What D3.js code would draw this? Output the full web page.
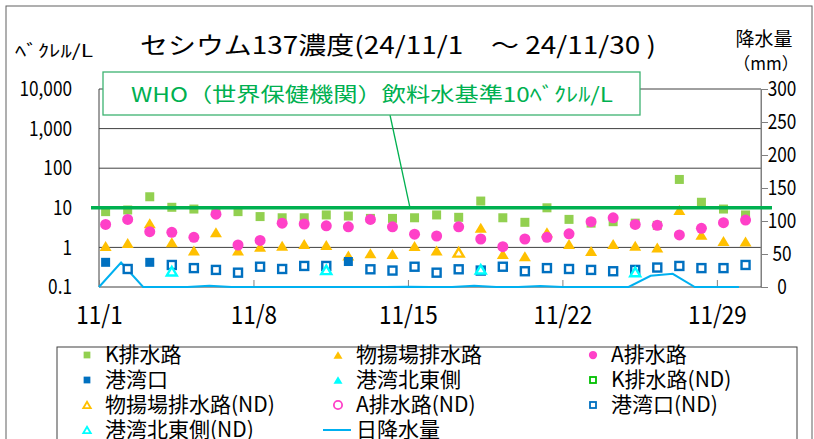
<!DOCTYPE html>
<html>
<head>
<meta charset="utf-8">
<script src="https://cdn.jsdelivr.net/npm/d3@7"></script>
<style>
  body { margin: 0; background: #fff; }
  text { font-family: "Noto Sans CJK JP", sans-serif; }
</style>
</head>
<body>
<div id="vis"></div>
<script>
// days of November 2024
const days = d3.range(1, 31)

// Cs-137 concentration (Bq/L), null = no value that day
const kDrain = [8.0, 8.8, 19, 10.3, 9.3, 7.7, 8.0, 6.0, 5.6, 5.6, 6.6, 6.2, 5.4, 5.4, 5.6,
  6.6, 5.75, 14.8, 5.6, 4.3, 10.0, 5.1, 4.1, 4.46, 4.1, 3.6, 52, 13.8, 9.3, 6.6]
const wharfDrain = [1.08, 1.3, 4.1, 1.35, 0.83, 2.4, 0.83, 1.04, 1.1, 1.22, 1.15, 0.62, 0.71, 0.68, 1.08,
  0.83, null, 3.15, 0.68, 0.6, 2.4, 1.22, 0.81, 1.22, 1.1, 1.0, 8.8, 2.1, 1.45, 1.4]
const aDrain = [3.8, 5.1, 2.5, 2.4, 1.8, 6.9, 1.15, 1.5, 4.1, 3.9, 3.5, 3.3, 5.1, 3.3, 2.15,
  1.94, 3.3, 1.63, 1.04, 1.63, 1.8, 2.2, 4.46, 5.6, 3.8, 3.6, 2.06, 3.03, 4.2, 4.9]
const harbor = [0.42, null, 0.42, null, null, null, null, null, null, null, null, 0.44, null, null, null,
  null, null, null, null, null, null, null, null, null, null, null, null, null, null, null]
const harborNE = new Array(30).fill(null)
const kDrainND = new Array(30).fill(null)
const wharfDrainND = [null, null, null, null, null, null, null, null, null, null, null, null, null, null, null,
  null, 0.75, null, null, null, null, null, null, null, null, null, null, null, null, null]
const aDrainND = new Array(30).fill(null)
const harborND = [null, 0.285, null, 0.36, 0.3, 0.27, 0.23, 0.325, 0.285, 0.34, 0.34, null, 0.28, 0.26, 0.325,
  0.23, 0.28, 0.26, 0.325, 0.25, 0.3, 0.285, 0.27, 0.25, 0.27, 0.31, 0.34, 0.3, 0.3, 0.36]
const harborNEND = [null, null, null, 0.25, null, null, null, null, null, null, 0.27, null, null, null, null,
  null, null, 0.28, null, null, null, null, null, null, 0.24, null, null, null, null, null]

// daily rainfall (mm)
const rain = [0, 37, 0, 0, 0, 2, 0, 0, 0, 0, 0, 0, 0, 0, 0.5,
  0, 0, 2, 0, 0, 1.5, 0, 0, 0, 0, 17, 20, 0, 0, 0]

const yTicks = [0.1, 1, 10, 100, 1000, 10000]
const rainTicks = [0, 50, 100, 150, 200, 250, 300]
const xTickDays = [1, 8, 15, 22, 29]
const whoLimit = 10

const series = [
  { name: 'K排水路', values: kDrain, shape: 'square', color: '#92D050', filled: true },
  { name: '物揚場排水路', values: wharfDrain, shape: 'triangle', color: '#FFC000', filled: true },
  { name: 'A排水路', values: aDrain, shape: 'circle', color: '#FF40C8', filled: true },
  { name: '港湾口', values: harbor, shape: 'square', color: '#0070C0', filled: true },
  { name: '港湾北東側', values: harborNE, shape: 'triangle', color: '#00FFFF', filled: true },
  { name: 'K排水路(ND)', values: kDrainND, shape: 'square', color: '#00C000', filled: false },
  { name: '物揚場排水路(ND)', values: wharfDrainND, shape: 'triangle', color: '#FFC000', filled: false },
  { name: 'A排水路(ND)', values: aDrainND, shape: 'circle', color: '#FF40C8', filled: false },
  { name: '港湾口(ND)', values: harborND, shape: 'square', color: '#0070C0', filled: false },
  { name: '港湾北東側(ND)', values: harborNEND, shape: 'triangle', color: '#00FFFF', filled: false }
]

const width = 814
const height = 439
const margin = { left: 99, top: 89, right: 53, bottom: 152 }
const innerWidth = width - margin.left - margin.right
const innerHeight = height - margin.top - margin.bottom

const svg = d3.select('#vis').append('svg')
  .attr('width', width)
  .attr('height', height)

// outer frame
svg.append('rect')
  .attr('x', 6).attr('y', 6)
  .attr('width', 806).attr('height', 440)
  .attr('fill', 'none').attr('stroke', '#606060')

const g = svg.append('g').attr('transform', `translate(${margin.left},${margin.top})`)

const xScale = d3.scaleLinear().domain([1, 31]).range([0, innerWidth])
const yScale = d3.scaleLog().domain([0.1, 10000]).range([innerHeight, 0])
const rainScale = d3.scaleLinear().domain([0, 300]).range([innerHeight, 0])
const markX = d => xScale(d + 0.3)

// squeeze a text horizontally (the original uses a narrow font)
function condense(sel, k) {
  sel.each(function () {
    const len = this.getComputedTextLength()
    d3.select(this).attr('textLength', len * k).attr('lengthAdjust', 'spacingAndGlyphs')
  })
}

// grid lines
g.append('g').selectAll('line').data(yTicks.slice(1)).join('line')
  .attr('x1', 0).attr('x2', innerWidth)
  .attr('y1', d => yScale(d)).attr('y2', d => yScale(d))
  .attr('stroke', '#404040').attr('stroke-width', 1)

// plot border (left, right, bottom)
g.append('line').attr('x1', 0).attr('x2', 0).attr('y1', 0).attr('y2', innerHeight)
  .attr('stroke', '#404040')
g.append('line').attr('x1', innerWidth).attr('x2', innerWidth).attr('y1', 0).attr('y2', innerHeight)
  .attr('stroke', '#808080')
g.append('line').attr('x1', 0).attr('x2', innerWidth).attr('y1', innerHeight).attr('y2', innerHeight)
  .attr('stroke', '#404040')

// left axis labels
const yAxisG = g.append('g')
  .call(d3.axisLeft(yScale).tickValues(yTicks).tickSize(0).tickPadding(27)
    .tickFormat(d3.format(',')))
yAxisG.select('.domain').remove()
yAxisG.selectAll('text').attr('font-size', 21).attr('fill', '#000').call(condense, 0.82)

// right axis
const rAxisG = g.append('g')
  .attr('transform', `translate(${innerWidth},0)`)
  .call(d3.axisRight(rainScale).tickValues(rainTicks).tickSize(7).tickPadding(6))
rAxisG.select('.domain').attr('stroke', '#808080')
rAxisG.selectAll('line').attr('stroke', '#808080')
rAxisG.selectAll('text').attr('font-size', 21).attr('fill', '#000')
  .attr('text-anchor', 'middle').attr('x', 21).call(condense, 0.82)

// bottom axis: ticks point up inside
const xAxisG = g.append('g')
  .attr('transform', `translate(0,${innerHeight})`)
  .call(d3.axisBottom(xScale).tickValues(xTickDays).tickSize(-7).tickPadding(19)
    .tickFormat(d => `11/${d}`))
xAxisG.select('.domain').remove()
xAxisG.selectAll('line').attr('stroke', '#808080')
xAxisG.selectAll('text').attr('font-size', 25).attr('fill', '#000').call(condense, 0.9)

// rainfall line
const rainLine = d3.line()
  .x((d, i) => xScale(days[i]))
  .y(d => rainScale(d))
g.append('path').datum(rain)
  .attr('d', rainLine)
  .attr('fill', 'none').attr('stroke', '#00B0F0').attr('stroke-width', 2)

// markers
function drawMarker(sel, shape, color, filled, cx, cy) {
  let m
  if (shape === 'square') {
    const s = filled ? 9 : 8
    m = sel.append('rect').attr('x', cx - s / 2).attr('y', cy - s / 2).attr('width', s).attr('height', s)
  } else if (shape === 'circle') {
    m = sel.append('circle').attr('cx', cx).attr('cy', cy).attr('r', 5.5)
  } else {
    const h = filled ? 10 : 8.5
    const w = filled ? 12 : 10
    m = sel.append('path')
      .attr('d', `M${cx},${cy - h / 2}L${cx + w / 2},${cy + h / 2}L${cx - w / 2},${cy + h / 2}Z`)
  }
  if (filled) m.attr('fill', color)
  else m.attr('fill', '#fff').attr('stroke', color).attr('stroke-width', 2.4)
  return m
}

const marksG = g.append('g')
series.forEach(s => {
  s.values.forEach((v, i) => {
    if (v == null) return
    drawMarker(marksG, s.shape, s.color, s.filled, markX(days[i]), yScale(v))
  })
})

// WHO guideline line
g.append('line')
  .attr('x1', -8).attr('x2', innerWidth + 11)
  .attr('y1', yScale(whoLimit)).attr('y2', yScale(whoLimit))
  .attr('stroke', '#00B050').attr('stroke-width', 3.5)

// WHO label box with leader line
svg.append('line')
  .attr('x1', 390).attr('y1', 115)
  .attr('x2', 410).attr('y2', margin.top + yScale(whoLimit))
  .attr('stroke', '#00B050').attr('stroke-width', 1.3)
svg.append('rect')
  .attr('x', 103).attr('y', 72).attr('width', 537).attr('height', 43)
  .attr('fill', '#fff').attr('stroke', '#3CB371').attr('stroke-width', 1.3)
svg.append('text')
  .attr('x', 131).attr('y', 102)
  .attr('font-size', 20).attr('fill', '#00B050')
  .attr('textLength', 482).attr('lengthAdjust', 'spacingAndGlyphs')
  .text('WHO（世界保健機関）飲料水基準10ﾍﾞｸﾚﾙ/L')

// titles
svg.append('text')
  .attr('x', 140).attr('y', 54)
  .attr('font-size', 24).attr('fill', '#000')
  .attr('textLength', 516).attr('lengthAdjust', 'spacingAndGlyphs')
  .text('セシウム137濃度(24/11/1　～ 24/11/30 )')
svg.append('text')
  .attr('x', 15).attr('y', 57)
  .attr('font-size', 17).attr('fill', '#000')
  .attr('textLength', 78).attr('lengthAdjust', 'spacingAndGlyphs')
  .text('ﾍﾞｸﾚﾙ/L')
svg.append('text')
  .attr('x', 764).attr('y', 46).attr('text-anchor', 'middle')
  .attr('font-size', 19).attr('fill', '#000')
  .text('降水量')
svg.append('text')
  .attr('x', 766).attr('y', 70).attr('text-anchor', 'middle')
  .attr('font-size', 17).attr('fill', '#000')
  .text('（mm）')

// legend
const legendItems = series.map(s => ({ ...s, line: false }))
  .concat([{ name: '日降水量', line: true, color: '#00B0F0' }])
const legendCols = [87, 338, 593]
const legendRows = [355, 380, 405, 430]

svg.append('rect')
  .attr('x', 57).attr('y', 347).attr('width', 740).attr('height', 110)
  .attr('fill', '#fff').attr('stroke', '#404040')

const legendG = svg.append('g')
legendItems.forEach((item, i) => {
  const cx = legendCols[i % 3]
  const cy = legendRows[Math.floor(i / 3)]
  if (item.line) {
    legendG.append('line')
      .attr('x1', cx - 15).attr('x2', cx + 13).attr('y1', cy).attr('y2', cy)
      .attr('stroke', item.color).attr('stroke-width', 2)
  } else {
    const m = drawMarker(legendG, item.shape, item.color, item.filled, cx, cy)
    m.attr('transform', `translate(${cx},${cy}) scale(0.75) translate(${-cx},${-cy})`)
  }
  legendG.append('text')
    .attr('x', cx + 18).attr('y', cy + 7)
    .attr('font-size', 21).attr('fill', '#000')
    .text(item.name)
})
</script>
</body>
</html>
